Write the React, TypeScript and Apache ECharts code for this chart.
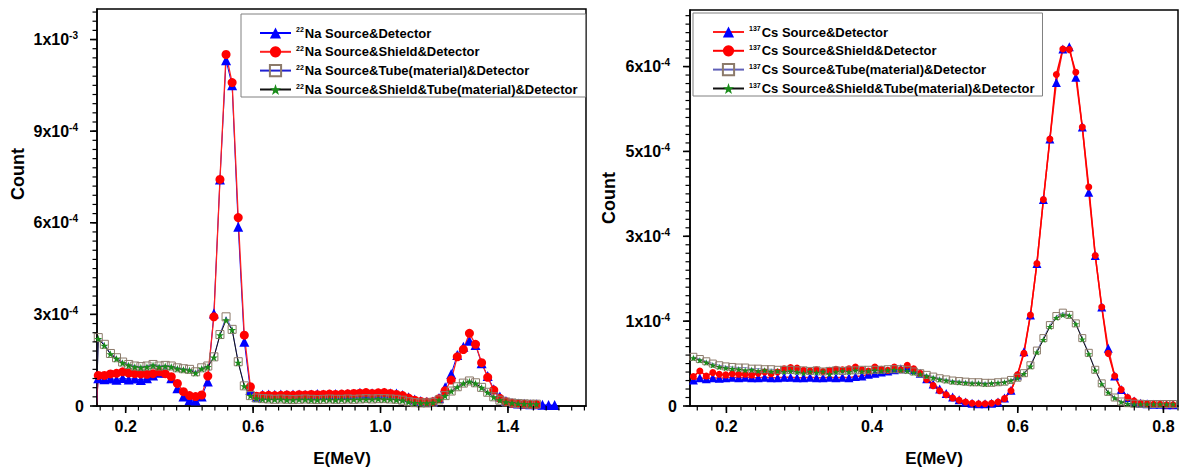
import React, { useEffect, useRef } from 'react';
import * as echarts from 'echarts';

// ---------- 22Na panel (left) ----------
const naEnergy = [
  0.108, 0.114, 0.1331, 0.1522, 0.1713, 0.1904, 0.2095, 0.2286, 0.2477, 0.2668, 0.2859,
  0.305, 0.3241, 0.3432, 0.3623, 0.3814, 0.4005, 0.4196, 0.4387, 0.4578, 0.4769,
  0.496, 0.5151, 0.5342, 0.5533, 0.5724, 0.5915, 0.6106, 0.6297, 0.6488, 0.6679,
  0.687, 0.7061, 0.7252, 0.7443, 0.7634, 0.7825, 0.8016, 0.8207, 0.8398, 0.8589,
  0.878, 0.8971, 0.9162, 0.9353, 0.9544, 0.9735, 0.9926, 1.0117, 1.0308, 1.0499,
  1.069, 1.0881, 1.1072, 1.1263, 1.1454, 1.1645, 1.1836, 1.2027, 1.2218, 1.2409,
  1.26, 1.2791, 1.2982, 1.3173, 1.3364, 1.3555, 1.3746, 1.3937, 1.4128, 1.4319,
  1.451, 1.4701, 1.4892, 1.5083, 1.5274, 1.5465,
];
const naSrcDet = [
  0, 9.1e-5, 8.8e-5, 9.0e-5, 8.6e-5, 9.2e-5, 8.7e-5, 9.0e-5, 8.5e-5, 9.1e-5, 1.0e-4,
  1.09e-4, 1.1e-4, 9.1e-5, 5.8e-5, 3.1e-5, 2.0e-5, 1.8e-5, 3.1e-5, 8.0e-5, 3.03e-4,
  7.42e-4, 1.132e-3, 1.05e-3, 5.87e-4, 2.1e-4, 5.2e-5, 3.0e-5, 3.7e-5, 3.8e-5, 3.7e-5,
  3.8e-5, 3.7e-5, 3.8e-5, 3.8e-5, 3.7e-5, 3.8e-5, 3.9e-5, 3.8e-5, 3.8e-5, 3.9e-5,
  3.8e-5, 3.9e-5, 4.0e-5, 4.3e-5, 4.0e-5, 4.2e-5, 4.1e-5, 4.3e-5, 4.2e-5, 4.1e-5,
  3.6e-5, 2.9e-5, 2.1e-5, 1.6e-5, 1.4e-5, 1.5e-5, 2.6e-5, 6.1e-5, 1.05e-4, 1.67e-4,
  1.94e-4, 2.14e-4, 2.0e-4, 1.4e-4, 9.8e-5, 5.5e-5, 3.1e-5, 1.6e-5, 1.0e-5, 8e-6,
  7e-6, 6e-6, 6e-6, 4e-6, 3e-6, 3e-6,
];
const naSrcShieldDet = [
  0, 1.0e-4, 1.0e-4, 1.05e-4, 1.07e-4, 1.12e-4, 1.08e-4, 1.06e-4, 1.05e-4, 1.04e-4, 1.06e-4,
  1.12e-4, 1.06e-4, 9.6e-5, 7.4e-5, 4.7e-5, 3.4e-5, 3.1e-5, 3.6e-5, 9.8e-5, 2.92e-4,
  7.42e-4, 1.151e-3, 1.059e-3, 6.17e-4, 2.32e-4, 6.3e-5, 3.2e-5, 3.4e-5, 3.5e-5, 3.4e-5,
  3.5e-5, 3.6e-5, 3.5e-5, 3.7e-5, 3.6e-5, 3.8e-5, 3.7e-5, 3.8e-5, 3.9e-5, 3.8e-5,
  3.9e-5, 4.0e-5, 4.1e-5, 4.2e-5, 4.4e-5, 4.1e-5, 4.3e-5, 4.4e-5, 4.1e-5, 3.8e-5,
  3.4e-5, 2.6e-5, 1.9e-5, 1.5e-5, 1.3e-5, 1.4e-5, 2.4e-5, 5.0e-5, 8.5e-5, 1.61e-4,
  1.85e-4, 2.38e-4, 2.02e-4, 1.42e-4, 9.4e-5, 5.2e-5, 2.5e-5, 1.4e-5, 9e-6, 7e-6,
  6e-6, 5e-6, 5e-6, null, null, null,
];
const naSrcTubeDet = [
  0, 2.24e-4, 2.02e-4, 1.72e-4, 1.58e-4, 1.44e-4, 1.36e-4, 1.31e-4, 1.29e-4, 1.31e-4, 1.36e-4,
  1.31e-4, 1.33e-4, 1.31e-4, 1.25e-4, 1.22e-4, 1.2e-4, 1.12e-4, 1.25e-4, 1.31e-4, 1.61e-4,
  2.34e-4, 2.92e-4, 2.51e-4, 1.45e-4, 6.6e-5, 3.4e-5, 2.6e-5, 2.4e-5, 2.3e-5, 2.2e-5,
  2.3e-5, 2.2e-5, 2.1e-5, 2.2e-5, 2.3e-5, 2.2e-5, 2.1e-5, 2.2e-5, 2.3e-5, 2.2e-5,
  2.2e-5, 2.3e-5, 2.2e-5, 2.3e-5, 2.4e-5, 2.3e-5, 2.4e-5, 2.4e-5, 2.3e-5, 2.2e-5,
  1.9e-5, 1.4e-5, 1.1e-5, 1.0e-5, 1.0e-5, 1.2e-5, 2.0e-5, 3.4e-5, 4.9e-5, 6.3e-5,
  7.5e-5, 8.2e-5, 7.6e-5, 6.1e-5, 4.5e-5, 3.0e-5, 1.9e-5, 1.3e-5, 1.0e-5, 8e-6,
  7e-6, 6e-6, 6e-6, null, null, null,
];
const naSrcShieldTubeDet = [
  0, 2.2e-4, 1.98e-4, 1.7e-4, 1.55e-4, 1.41e-4, 1.33e-4, 1.28e-4, 1.26e-4, 1.28e-4, 1.33e-4,
  1.28e-4, 1.3e-4, 1.28e-4, 1.22e-4, 1.19e-4, 1.17e-4, 1.08e-4, 1.22e-4, 1.28e-4, 1.59e-4,
  2.32e-4, 2.81e-4, 2.49e-4, 1.42e-4, 6.5e-5, 3.3e-5, 2.5e-5, 2.2e-5, 2.1e-5, 2.1e-5,
  2.2e-5, 2.0e-5, 2.0e-5, 2.1e-5, 2.1e-5, 2.0e-5, 2.0e-5, 2.1e-5, 2.1e-5, 2.0e-5,
  2.1e-5, 2.1e-5, 2.1e-5, 2.2e-5, 2.2e-5, 2.2e-5, 2.3e-5, 2.2e-5, 2.2e-5, 2.0e-5,
  1.8e-5, 1.3e-5, 1.0e-5, 9e-6, 9e-6, 1.1e-5, 1.9e-5, 3.3e-5, 4.8e-5, 6.2e-5,
  7.4e-5, 8.0e-5, 7.4e-5, 6.0e-5, 4.4e-5, 2.9e-5, 1.9e-5, 1.3e-5, 1.0e-5, 8e-6,
  7e-6, 6e-6, 6e-6, null, null, null,
];
const naXTickValues = [0.2, 0.6, 1.0, 1.4];
const naXTickLabels = ['0.2', '0.6', '1.0', '1.4'];
const naYTickValues = [0, 3e-4, 6e-4, 9e-4, 1.2e-3];
const naYTickLabels = ['0', '3x10^-4', '6x10^-4', '9x10^-4', '1x10^-3'];
const naNames = [
  '22Na Source&Detector',
  '22Na Source&Shield&Detector',
  '22Na Source&Tube(material)&Detector',
  '22Na Source&Shield&Tube(material)&Detector',
];

// ---------- 137Cs panel (right) ----------
const csEnergy = [
  0.1546, 0.1635, 0.1724, 0.1813, 0.1902, 0.1991, 0.208, 0.2169, 0.2258, 0.2347,
  0.2436, 0.2525, 0.2614, 0.2703, 0.2792, 0.2881, 0.297, 0.3059, 0.3148, 0.3237,
  0.3326, 0.3415, 0.3504, 0.3593, 0.3682, 0.3771, 0.386, 0.3949, 0.4038, 0.4127,
  0.4216, 0.4305, 0.4394, 0.4483, 0.4572, 0.4661, 0.475, 0.4839, 0.4928, 0.5017,
  0.5106, 0.5195, 0.5284, 0.5373, 0.5462, 0.5551, 0.564, 0.5729, 0.5818, 0.5907,
  0.5996, 0.6085, 0.6174, 0.6263, 0.6352, 0.6441, 0.653, 0.6619, 0.6708, 0.6797,
  0.6886, 0.6975, 0.7064, 0.7153, 0.7242, 0.7331, 0.742, 0.7509, 0.7598, 0.7687,
  0.7776, 0.7865, 0.7954, 0.8043, 0.8132,
];
const csSrcDet = [
  4.6e-5, 5.0e-5, 4.8e-5, 5.0e-5, 4.9e-5, 5.0e-5, 5.1e-5, 5.0e-5, 5.1e-5, 5.0e-5,
  5.0e-5, 5.1e-5, 5.0e-5, 5.0e-5, 5.1e-5, 5.1e-5, 5.0e-5, 5.0e-5, 5.1e-5, 5.0e-5,
  5.0e-5, 5.1e-5, 5.0e-5, 5.1e-5, 5.0e-5, 5.2e-5, 5.3e-5, 5.6e-5, 5.8e-5, 6.0e-5,
  6.2e-5, 6.4e-5, 6.6e-5, 6.8e-5, 6.4e-5, 5.8e-5, 4.8e-5, 3.9e-5, 3.0e-5, 2.2e-5,
  1.6e-5, 1.1e-5, 7e-6, 5e-6, 4e-6, 4e-6, 5e-6, 7e-6, 1.4e-5, 2.8e-5,
  5.5e-5, 9.6e-5, 1.61e-4, 2.52e-4, 3.65e-4, 4.72e-4, 5.72e-4, 6.31e-4, 6.35e-4, 5.81e-4,
  4.93e-4, 3.78e-4, 2.66e-4, 1.75e-4, 1.02e-4, 5.3e-5, 2.9e-5, 1.5e-5, 9e-6, 5e-6,
  4e-6, 3e-6, 3e-6, 2e-6, 2e-6,
];
const csSrcShieldDet = [
  5.2e-5, 6.2e-5, 5.3e-5, 5.9e-5, 5.6e-5, 5.5e-5, 5.7e-5, 5.6e-5, 5.6e-5, 5.5e-5,
  5.8e-5, 6.0e-5, 5.7e-5, 6.0e-5, 6.6e-5, 6.8e-5, 6.7e-5, 6.3e-5, 6.2e-5, 6.4e-5,
  6.1e-5, 6.3e-5, 6.5e-5, 6.4e-5, 6.6e-5, 6.9e-5, 6.4e-5, 6.2e-5, 6.9e-5, 6.5e-5,
  6.3e-5, 6.9e-5, 6.4e-5, 7.2e-5, 6.6e-5, 5.8e-5, 4.7e-5, 3.6e-5, 2.7e-5, 2.0e-5,
  1.4e-5, 1.0e-5, 7e-6, 5e-6, 4e-6, 4e-6, 5e-6, 7e-6, 1.3e-5, 2.7e-5,
  5.5e-5, 9.3e-5, 1.61e-4, 2.52e-4, 3.65e-4, 4.72e-4, 5.86e-4, 6.31e-4, 6.3e-4, 5.9e-4,
  4.93e-4, 3.87e-4, 2.66e-4, 1.75e-4, 9.3e-5, 5.3e-5, 2.9e-5, 1.5e-5, 9e-6, 5e-6,
  4e-6, 3e-6, 3e-6, 2e-6, 2e-6,
];
const csSrcTubeDet = [
  8.7e-5, 8.3e-5, 7.9e-5, 7.5e-5, 7.2e-5, 7.0e-5, 6.9e-5, 6.8e-5, 6.8e-5, 6.6e-5,
  6.6e-5, 6.5e-5, 6.5e-5, 6.4e-5, 6.4e-5, 6.4e-5, 6.3e-5, 6.3e-5, 6.2e-5, 6.3e-5,
  6.1e-5, 6.2e-5, 6.3e-5, 6.2e-5, 6.3e-5, 6.3e-5, 6.4e-5, 6.4e-5, 6.4e-5, 6.4e-5,
  6.5e-5, 6.5e-5, 6.5e-5, 6.4e-5, 6.1e-5, 5.8e-5, 5.5e-5, 5.2e-5, 4.9e-5, 4.7e-5,
  4.5e-5, 4.4e-5, 4.3e-5, 4.2e-5, 4.2e-5, 4.1e-5, 4.1e-5, 4.2e-5, 4.3e-5, 4.6e-5,
  5.0e-5, 5.8e-5, 7.2e-5, 9.8e-5, 1.2e-4, 1.43e-4, 1.59e-4, 1.65e-4, 1.61e-4, 1.46e-4,
  1.2e-4, 9.4e-5, 6.4e-5, 4.0e-5, 2.5e-5, 1.5e-5, 8e-6, 5e-6, 4e-6, 4e-6,
  3.5e-6, 3.5e-6, 3.5e-6, 3.5e-6, 3.5e-6,
];
const csSrcShieldTubeDet = [
  8.5e-5, 8.1e-5, 7.7e-5, 7.2e-5, 6.9e-5, 6.7e-5, 6.6e-5, 6.5e-5, 6.3e-5, 6.4e-5,
  6.2e-5, 6.3e-5, 6.1e-5, 6.2e-5, 6.0e-5, 6.2e-5, 6.0e-5, 5.8e-5, 6.1e-5, 5.9e-5,
  6.1e-5, 5.6e-5, 6.0e-5, 6.2e-5, 6.0e-5, 6.3e-5, 6.1e-5, 6.2e-5, 6.3e-5, 6.2e-5,
  6.3e-5, 6.4e-5, 6.3e-5, 6.2e-5, 5.9e-5, 5.6e-5, 5.3e-5, 5.0e-5, 4.7e-5, 4.5e-5,
  4.3e-5, 4.2e-5, 4.1e-5, 4.0e-5, 4.0e-5, 3.9e-5, 4.0e-5, 4.1e-5, 4.2e-5, 4.5e-5,
  4.9e-5, 5.7e-5, 7.0e-5, 9.5e-5, 1.17e-4, 1.4e-4, 1.56e-4, 1.61e-4, 1.6e-4, 1.45e-4,
  1.18e-4, 9.2e-5, 6.3e-5, 3.9e-5, 2.4e-5, 1.4e-5, 7e-6, 4e-6, 3e-6, 3e-6,
  3e-6, 3e-6, 3e-6, 3e-6, 3e-6,
];
const csXTickValues = [0.2, 0.4, 0.6, 0.8];
const csXTickLabels = ['0.2', '0.4', '0.6', '0.8'];
const csYTickValues = [0, 1.5e-4, 3e-4, 4.5e-4, 6e-4];
const csYTickLabels = ['0', '1x10^-4', '3x10^-4', '5x10^-4', '6x10^-4'];
const csNames = [
  '137Cs Source&Detector',
  '137Cs Source&Shield&Detector',
  '137Cs Source&Tube(material)&Detector',
  '137Cs Source&Shield&Tube(material)&Detector',
];

const FONT = "'Liberation Sans', Arial, Helvetica, sans-serif";
const STAR =
  'path://M50,2 L61.8,36.2 L97.6,36.2 L68.6,57.4 L79.4,91.6 L50,70.6 L20.6,91.6 L31.4,57.4 L2.4,36.2 L38.2,36.2 Z';

const NA_XMIN = 0.11, NA_XMAX = 1.645, NA_YMAX = 1.3e-3;
const CS_XMIN = 0.15, CS_XMAX = 0.82, CS_YMAX = 7e-4;

function steps(start: number, count: number, step: number) {
  const out: number[] = [];
  for (let i = 0; i < count; i++) out.push(+(start + i * step).toFixed(10));
  return out;
}

function pairs(xs: number[], ys: (number | null)[]) {
  const out: number[][] = [];
  for (let i = 0; i < xs.length; i++) {
    const y = ys[i];
    if (y !== null && y !== undefined) out.push([xs[i], y]);
  }
  return out;
}

function labelFmt(values: number[], labels: string[]) {
  return (v: number) => {
    const i = values.findIndex((t) => Math.abs(t - v) < 1e-12);
    if (i < 0) return '';
    const [m, e] = labels[i].split('^');
    return e ? `{b|${m}}{sup|${e}}` : `{b|${m}}`;
  };
}

function tickRich(supPadRight: number) {
  return {
    b: { fontSize: 16, fontWeight: 'bold', fontFamily: FONT, color: '#000', lineHeight: 18 },
    sup: {
      fontSize: 10, fontWeight: 'bold', fontFamily: FONT, color: '#000', lineHeight: 10,
      verticalAlign: 'top', padding: [0, supPadRight, 0, 0],
    },
  };
}

// Labels sit at custom values; the tick marks are drawn below from the same axis scale.
function axisOpt(grid: number, min: number, max: number, values: number[], labels: string[], pos: string, margin: number, supPad: number) {
  return {
    type: 'value',
    gridIndex: grid,
    min,
    max,
    position: pos,
    axisLine: { show: true, onZero: false, lineStyle: { color: '#000', width: 1.5 } },
    axisTick: { show: false },
    axisLabel: {
      show: true,
      customValues: values,
      formatter: labelFmt(values, labels),
      margin,
      rich: tickRich(supPad),
    },
    splitLine: { show: false },
    minorTick: { show: false },
  };
}

function legendFmt(name: string) {
  const m = name.match(/^(\d+)(.*)$/);
  if (!m) return `{t|${name}}`;
  return `{sup|${m[1]}}{t|${m[2]}}`;
}

function makeLegend(names: string[], left: number, top: number, padLeft: number) {
  return {
    data: names,
    orient: 'vertical',
    left,
    top,
    padding: [12, 8, 1, padLeft],
    itemWidth: 31,
    itemHeight: 14,
    itemGap: 5.3,
    backgroundColor: '#fff',
    borderColor: '#808080',
    borderWidth: 1,
    borderRadius: 0,
    selectedMode: false,
    formatter: legendFmt,
    textStyle: {
      color: '#000',
      rich: {
        t: { fontSize: 13, fontWeight: 'bold', fontFamily: FONT, color: '#000', lineHeight: 14 },
        sup: { fontSize: 7, fontWeight: 'bold', fontFamily: FONT, color: '#000', lineHeight: 8, verticalAlign: 'top', padding: [0, 1, 0, 0] },
      },
    },
  };
}

function buildOption() {
  const base = { type: 'line', animation: false, emphasis: { disabled: true }, clip: true, z: 2 };

  const series: any[] = [
    {
      ...base, name: naNames[0], xAxisIndex: 0, yAxisIndex: 0, data: pairs(naEnergy, naSrcDet),
      symbol: 'triangle', symbolSize: 10,
      lineStyle: { color: '#0000ff', width: 1 }, itemStyle: { color: '#0000ff' },
    },
    {
      ...base, name: naNames[1], xAxisIndex: 0, yAxisIndex: 0, data: pairs(naEnergy, naSrcShieldDet),
      symbol: 'circle', symbolSize: 9,
      lineStyle: { color: '#ff2020', width: 1.3 }, itemStyle: { color: '#ff0000' },
    },
    {
      ...base, name: naNames[2], xAxisIndex: 0, yAxisIndex: 0, data: pairs(naEnergy, naSrcTubeDet),
      symbol: 'rect', symbolSize: 8,
      lineStyle: { color: '#2020d0', width: 0.8 },
      itemStyle: { color: 'rgba(255,255,255,0)', borderColor: '#8c7a6a', borderWidth: 1 },
    },
    {
      ...base, name: naNames[3], xAxisIndex: 0, yAxisIndex: 0, data: pairs(naEnergy, naSrcShieldTubeDet),
      symbol: STAR, symbolSize: 8, symbolKeepAspect: true,
      lineStyle: { color: '#111', width: 1 }, itemStyle: { color: '#1a8c1a' },
    },
    {
      ...base, name: csNames[0], xAxisIndex: 1, yAxisIndex: 1, data: pairs(csEnergy, csSrcDet),
      symbol: 'triangle', symbolSize: 9,
      lineStyle: { color: '#ff2020', width: 1.5 }, itemStyle: { color: '#0000ff' },
    },
    {
      ...base, name: csNames[1], xAxisIndex: 1, yAxisIndex: 1, data: pairs(csEnergy, csSrcShieldDet),
      symbol: 'circle', symbolSize: 7,
      lineStyle: { color: '#ff0000', width: 1.5 }, itemStyle: { color: '#ff0000' },
    },
    {
      ...base, name: csNames[2], xAxisIndex: 1, yAxisIndex: 1, data: pairs(csEnergy, csSrcTubeDet),
      symbol: 'rect', symbolSize: 7,
      lineStyle: { color: '#6060b8', width: 0.8 },
      itemStyle: { color: 'rgba(255,255,255,0)', borderColor: '#8c7a6a', borderWidth: 1 },
    },
    {
      ...base, name: csNames[3], xAxisIndex: 1, yAxisIndex: 1, data: pairs(csEnergy, csSrcShieldTubeDet),
      symbol: STAR, symbolSize: 7, symbolKeepAspect: true,
      lineStyle: { color: '#111', width: 1 }, itemStyle: { color: '#1a8c1a' },
    },
  ];

  return {
    animation: false,
    backgroundColor: '#fff',
    textStyle: { fontFamily: FONT },
    grid: [
      { left: 97, top: 9, width: 489, height: 397, show: true, borderColor: '#000', borderWidth: 1.5, backgroundColor: 'transparent' },
      { left: 690, top: 10, width: 488, height: 396, show: true, borderColor: '#000', borderWidth: 1.5, backgroundColor: 'transparent' },
    ],
    xAxis: [
      axisOpt(0, NA_XMIN, NA_XMAX, naXTickValues, naXTickLabels, 'bottom', 11, 0),
      axisOpt(1, CS_XMIN, CS_XMAX, csXTickValues, csXTickLabels, 'bottom', 11, 0),
    ],
    yAxis: [
      axisOpt(0, 0, NA_YMAX, naYTickValues, naYTickLabels, 'left', 13, 6),
      axisOpt(1, 0, CS_YMAX, csYTickValues, csYTickLabels, 'left', 13, 7),
    ],
    legend: [makeLegend(naNames, 241, 14, 18), makeLegend(csNames, 693, 13, 19)],
    series,
  };
}

// Axis titles + tick marks; tick positions come from the chart's own scales (convertToPixel).
function buildGraphics(chart: any) {
  const g: any[] = [
    { type: 'text', x: 18, y: 174, rotation: Math.PI / 2, style: { text: 'Count', font: `bold 18px ${FONT}`, fill: '#000', align: 'center', verticalAlign: 'middle' } },
    { type: 'text', x: 609, y: 198, rotation: Math.PI / 2, style: { text: 'Count', font: `bold 18px ${FONT}`, fill: '#000', align: 'center', verticalAlign: 'middle' } },
    { type: 'text', x: 342, y: 458, style: { text: 'E(MeV)', font: `bold 17px ${FONT}`, fill: '#000', align: 'center', verticalAlign: 'middle' } },
    { type: 'text', x: 934, y: 458, style: { text: 'E(MeV)', font: `bold 17px ${FONT}`, fill: '#000', align: 'center', verticalAlign: 'middle' } },
  ];
  const panels = [
    {
      grid: 0, xmin: NA_XMIN, xMaj: naXTickValues, xMin: steps(0.12, 39, 0.04),
      yMaj: naYTickValues, yMin: steps(0, 44, 3e-5),
    },
    {
      grid: 1, xmin: CS_XMIN, xMaj: csXTickValues, xMin: steps(0.16, 34, 0.02),
      yMaj: csYTickValues, yMin: steps(0, 47, 1.5e-5),
    },
  ];
  const ok = (pt: any) => pt && isFinite(pt[0]) && isFinite(pt[1]);
  panels.forEach((p) => {
    const finder = { gridIndex: p.grid };
    const addX = (v: number, major: boolean) => {
      const pt = chart.convertToPixel(finder, [v, 0]);
      if (!ok(pt)) return;
      const len = major ? 7 : 4.5;
      g.push({
        type: 'line', silent: true, z: 100,
        shape: { x1: pt[0], y1: pt[1], x2: pt[0], y2: pt[1] + len },
        style: { stroke: '#000', lineWidth: major ? 1.6 : 1.2 },
      });
    };
    const addY = (v: number, major: boolean) => {
      const pt = chart.convertToPixel(finder, [p.xmin, v]);
      if (!ok(pt)) return;
      const len = major ? 7 : 4.5;
      g.push({
        type: 'line', silent: true, z: 100,
        shape: { x1: pt[0] - len, y1: pt[1], x2: pt[0], y2: pt[1] },
        style: { stroke: '#000', lineWidth: major ? 1.6 : 1.2 },
      });
    };
    p.xMin.forEach((v) => addX(v, false));
    p.xMaj.forEach((v) => addX(v, true));
    p.yMin.forEach((v) => addY(v, false));
    p.yMaj.forEach((v) => addY(v, true));
  });
  return g;
}

export default function App() {
  const ref = useRef<HTMLDivElement>(null);
  useEffect(() => {
    if (!ref.current) return;
    const chart = echarts.init(ref.current, null, { renderer: 'svg' });
    chart.setOption(buildOption() as any);
    chart.setOption({ graphic: buildGraphics(chart) } as any);
    return () => chart.dispose();
  }, []);
  return (
    <div
      ref={ref}
      style={{ position: 'fixed', left: 0, top: 0, width: 1179, height: 470, background: '#fff' }}
    />
  );
}
